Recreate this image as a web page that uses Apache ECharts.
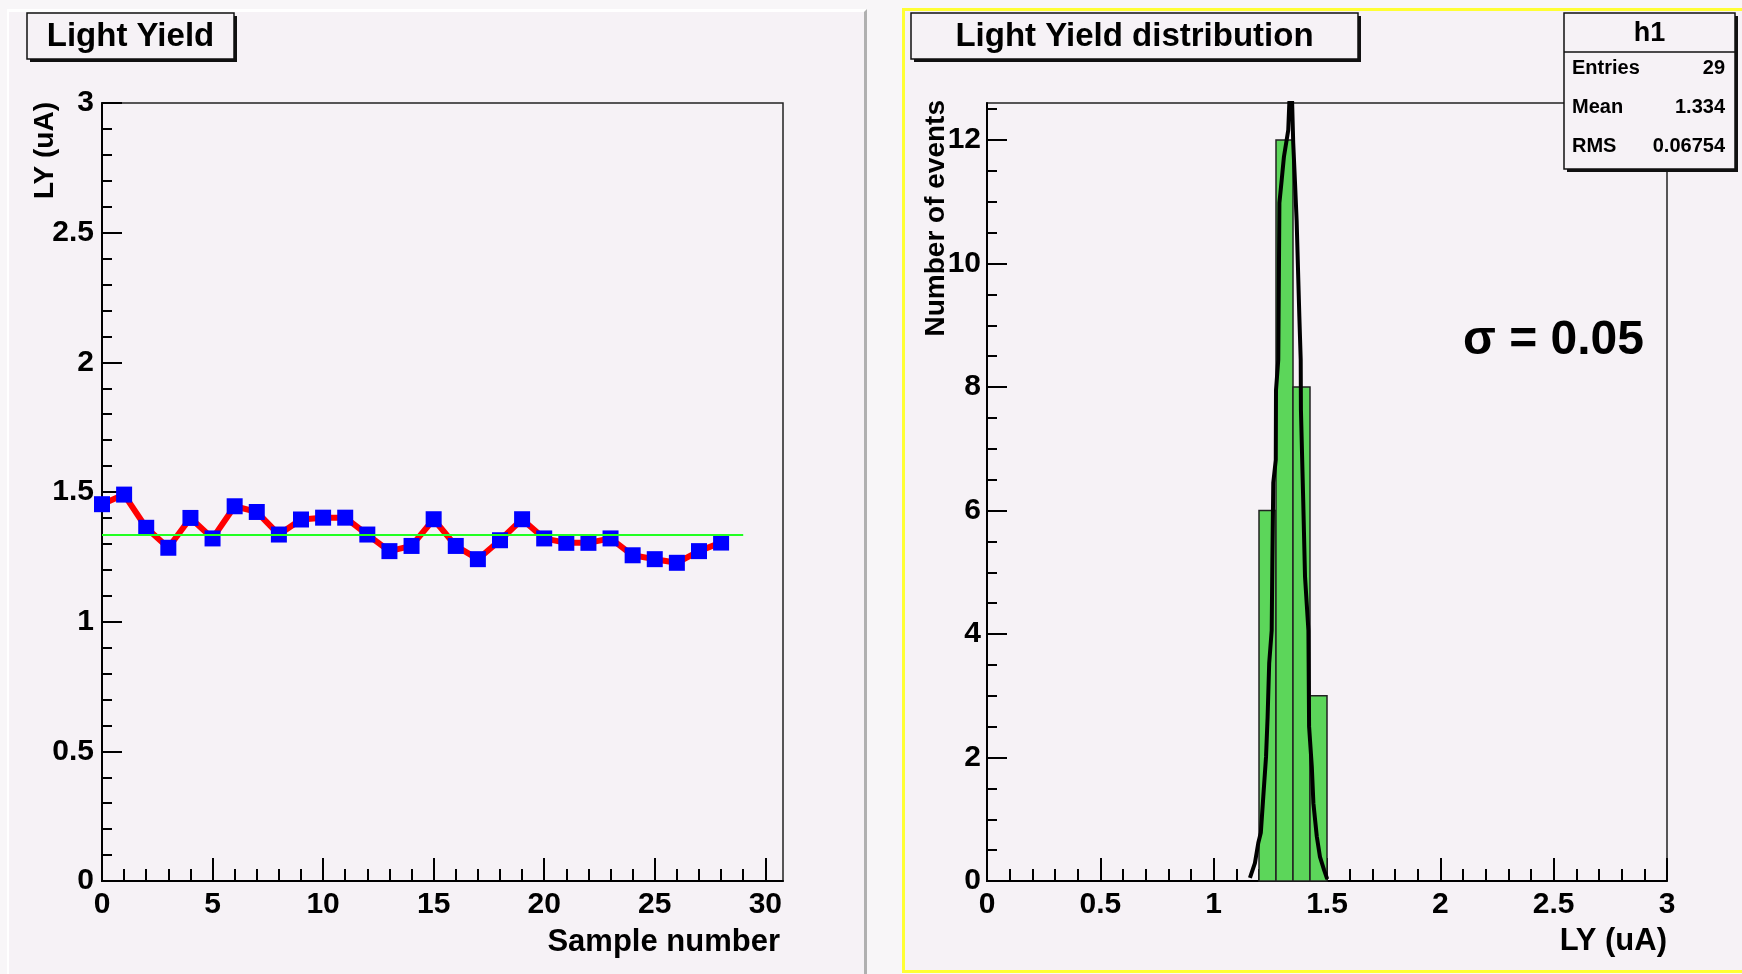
<!DOCTYPE html>
<html>
<head>
<meta charset="utf-8">
<script src="https://cdn.jsdelivr.net/npm/echarts@6/dist/echarts.min.js"></script>
<style>
html,body{margin:0;padding:0;background:#f8f6f8;}
#wrap{position:relative;width:1742px;height:974px;overflow:hidden;}
#padL{position:absolute;left:7px;top:9px;width:855px;height:970px;background:#f6f2f6;border-top:3px solid #ffffff;border-left:2px solid #ffffff;border-right:3px solid #b0b0b0;}
#padR{position:absolute;left:902px;top:8px;width:850px;height:959px;background:#f6f2f6;border:3px solid #ffff33;}
#c{position:absolute;left:0;top:0;width:1742px;height:974px;}
</style>
</head>
<body>
<div id="wrap"><div id="padL"></div><div id="padR"></div><div id="c"></div></div>
<script>
// ---------- data ----------
const sampleIndex = [0,1,2,3,4,5,6,7,8,9,10,11,12,13,14,15,16,17,18,19,20,21,22,23,24,25,26,27,28];
const lightYield  = [1.453,1.490,1.362,1.285,1.400,1.321,1.445,1.423,1.336,1.394,
                     1.401,1.401,1.336,1.272,1.292,1.395,1.292,1.241,1.314,1.395,
                     1.321,1.304,1.304,1.321,1.256,1.241,1.227,1.272,1.305];
const meanLY = 1.334;
const meanLineX = [0, 29];

const histBinLow   = [1.2, 1.275, 1.35, 1.425];
const histBinWidth = 0.075;
const histCounts   = [6, 12, 8, 3];

// Gaussian fit curve
const fitX = [1.160,1.182,1.197,1.208,1.219,1.231,1.238,1.245,1.256,1.259,1.263,1.274,1.275,1.285,1.290,1.300,1.310,1.322,1.329,1.337,
              1.339,
              1.344,1.351,1.359,1.366,1.378,1.384,1.385,1.395,1.403,1.418,1.421,1.433,1.440,1.455,1.469,1.487,1.501];
const fitY = [0.05,0.29,0.62,0.78,1.37,2.01,2.66,3.53,4.06,5.20,6.45,6.82,7.95,8.44,10.98,11.35,11.73,12.00,12.16,12.90,
              13.0,
              12.90,11.95,11.30,10.70,9.14,8.44,7.63,6.17,4.93,4.06,2.50,1.85,1.26,0.72,0.39,0.18,0.03];

const titleLeft  = 'Light Yield';
const titleRight = 'Light Yield distribution';
const xTitleLeft = 'Sample number';
const yTitleLeft = 'LY (uA)';
const xTitleRight = 'LY (uA)';
const yTitleRight = 'Number of events';
const statsName   = 'h1';
const statsLabels = ['Entries', 'Mean', 'RMS'];
const statsValues = ['29', '1.334', '0.06754'];
const sigmaText   = 'σ = 0.05';

// ---------- layout ----------
const FONT = '"Liberation Sans", Arial, Helvetica, sans-serif';
const PADBG = '#f6f2f6';
const TOP = 103, BOTTOM = 881, H = BOTTOM - TOP;
const LX0 = 102, LX1 = 783, LW = LX1 - LX0;
const RX0 = 987, RX1 = 1667, RW = RX1 - RX0;
const LXMAX = 30.8, LXTICKMAX = 30;
const RYMAX = 12.6, RYMAJMAX = 12, RYMINMAX = 12.5;

const tickLbl = {show:true, color:'#000', fontFamily:FONT, fontWeight:'bold', fontSize:30};
const noAxis = {show:false};
function hiddenAxis(gi, min, max){
  return {type:'value', gridIndex:gi, min:min, max:max, show:false};
}

const grids = [
  {left:LX0, top:TOP, width:LW, height:H, show:true, borderColor:'#222', borderWidth:1.5, backgroundColor:'transparent', outerBoundsMode:'none', containLabel:false},
  {left:LX0, top:TOP, width:LW*LXTICKMAX/LXMAX, height:H, outerBoundsMode:'none', containLabel:false},
  {left:RX0, top:TOP, width:RW, height:H, show:true, borderColor:'#222', borderWidth:1.5, backgroundColor:'transparent', outerBoundsMode:'none', containLabel:false},
  {left:RX0, top:BOTTOM - H*RYMAJMAX/RYMAX, width:RW, height:H*RYMAJMAX/RYMAX, outerBoundsMode:'none', containLabel:false},
  {left:RX0, top:BOTTOM - H*RYMINMAX/RYMAX, width:RW, height:H*RYMINMAX/RYMAX, outerBoundsMode:'none', containLabel:false}
];

const axisLine = {show:true, onZero:false, lineStyle:{color:'#000', width:2}};

const xAxes = [
  {type:'value', gridIndex:0, min:0, max:LXMAX, axisLine:axisLine, axisTick:noAxis, axisLabel:noAxis, splitLine:noAxis},
  {type:'value', gridIndex:1, min:0, max:LXTICKMAX, interval:5,
   axisLine:axisLine,
   axisTick:{show:true, inside:true, length:23, lineStyle:{color:'#000', width:2}},
   minorTick:{show:true, splitNumber:5, length:12, lineStyle:{color:'#000', width:2}},
   axisLabel:Object.assign({margin:9}, tickLbl), splitLine:noAxis},
  {type:'value', gridIndex:2, min:0, max:3, interval:0.5,
   axisLine:axisLine,
   axisTick:{show:true, inside:true, length:23, lineStyle:{color:'#000', width:2}},
   minorTick:{show:true, splitNumber:5, length:12, lineStyle:{color:'#000', width:2}},
   axisLabel:Object.assign({margin:9}, tickLbl), splitLine:noAxis},
  hiddenAxis(3, 0, 3),
  hiddenAxis(4, 0, 3)
];

const yAxes = [
  {type:'value', gridIndex:0, min:0, max:3, interval:0.5,
   axisLine:axisLine,
   axisTick:{show:true, inside:true, length:20, lineStyle:{color:'#000', width:2}},
   minorTick:{show:true, splitNumber:5, length:10, lineStyle:{color:'#000', width:2}},
   axisLabel:Object.assign({margin:8}, tickLbl), splitLine:noAxis},
  hiddenAxis(1, 0, 3),
  {type:'value', gridIndex:2, min:0, max:RYMAX, axisLine:axisLine, axisTick:noAxis, axisLabel:noAxis, splitLine:noAxis},
  {type:'value', gridIndex:3, min:0, max:RYMAJMAX, interval:2,
   axisLine:axisLine,
   axisTick:{show:true, inside:true, length:20, lineStyle:{color:'#000', width:2}},
   axisLabel:Object.assign({margin:6}, tickLbl), splitLine:noAxis},
  {type:'value', gridIndex:4, min:0, max:RYMINMAX, interval:0.5,
   axisLine:{show:false},
   axisTick:{show:true, inside:true, length:10, lineStyle:{color:'#000', width:2}},
   axisLabel:noAxis, splitLine:noAxis}
];

function titleBox(x, y, w, h, text, fs){
  return {type:'group', z:50, children:[
    {type:'rect', shape:{x:x+3, y:y+3, width:w, height:h}, style:{fill:'#111'}},
    {type:'rect', shape:{x:x, y:y, width:w, height:h}, style:{fill:PADBG, stroke:'#111', lineWidth:1.5}},
    {type:'text', x:x + w/2, y:y + h/2 + 1, style:{text:text, font:'bold ' + fs + 'px ' + FONT, fill:'#000', align:'center', verticalAlign:'middle'}}
  ]};
}

const statsX = 1564, statsY = 13, statsW = 171, statsH = 156;
const statsRowY = [68, 107, 146];
const statsChildren = [
  {type:'rect', shape:{x:statsX+3, y:statsY+3, width:statsW, height:statsH}, style:{fill:'#111'}},
  {type:'rect', shape:{x:statsX, y:statsY, width:statsW, height:statsH}, style:{fill:PADBG, stroke:'#111', lineWidth:1.5}},
  {type:'line', shape:{x1:statsX, y1:52, x2:statsX+statsW, y2:52}, style:{stroke:'#111', lineWidth:1.5}},
  {type:'text', x:statsX + statsW/2, y:34, style:{text:statsName, font:'bold 27px ' + FONT, fill:'#000', align:'center', verticalAlign:'middle'}}
];
statsLabels.forEach((lab, i) => {
  statsChildren.push({type:'text', x:statsX + 8, y:statsRowY[i], style:{text:lab, font:'bold 20px ' + FONT, fill:'#000', align:'left', verticalAlign:'middle'}});
  statsChildren.push({type:'text', x:statsX + statsW - 10, y:statsRowY[i], style:{text:statsValues[i], font:'bold 20px ' + FONT, fill:'#000', align:'right', verticalAlign:'middle'}});
});

const graphics = [
  titleBox(27, 13, 207, 46, titleLeft, 33),
  titleBox(911, 13, 447, 46, titleRight, 33),
  {type:'group', z:60, children:statsChildren},
  {type:'text', z:50, x:1463, y:341, style:{text:sigmaText, font:'bold 48px ' + FONT, fill:'#000', align:'left', verticalAlign:'middle'}},
  {type:'text', z:50, x:780, y:942, style:{text:xTitleLeft, font:'bold 31px ' + FONT, fill:'#000', align:'right', verticalAlign:'middle'}},
  {type:'text', z:50, x:1667, y:941, style:{text:xTitleRight, font:'bold 31px ' + FONT, fill:'#000', align:'right', verticalAlign:'middle'}},
  {type:'text', z:50, x:45, y:102, rotation:Math.PI/2, style:{text:yTitleLeft, font:'bold 28px ' + FONT, fill:'#000', align:'right', verticalAlign:'middle'}},
  {type:'text', z:50, x:936, y:100, rotation:Math.PI/2, style:{text:yTitleRight, font:'bold 28px ' + FONT, fill:'#000', align:'right', verticalAlign:'middle'}}
];

const series = [
  {type:'line', xAxisIndex:0, yAxisIndex:0, z:3,
   data:sampleIndex.map((s, i) => [s, lightYield[i]]),
   lineStyle:{color:'#ff0000', width:6},
   symbol:'rect', symbolSize:16, itemStyle:{color:'#0000ff'}, showSymbol:true},
  {type:'line', xAxisIndex:0, yAxisIndex:0, z:5,
   data:meanLineX.map(x => [x, meanLY]),
   lineStyle:{color:'#22ff22', width:2}, symbol:'none'},
  {type:'custom', xAxisIndex:2, yAxisIndex:2, z:3,
   data:histBinLow.map((lo, i) => [lo, lo + histBinWidth, histCounts[i]]),
   encode:{x:[0,1], y:2},
   renderItem:function(params, api){
     const lo = api.value(0), hi = api.value(1), n = api.value(2);
     const p0 = api.coord([lo, n]), p1 = api.coord([hi, 0]);
     return {type:'rect', shape:{x:p0[0], y:p0[1], width:p1[0]-p0[0], height:p1[1]-p0[1]},
             style:{fill:'#5cd65a', stroke:'#222', lineWidth:1.5}};
   }},
  {type:'line', xAxisIndex:2, yAxisIndex:2, z:4, clip:true,
   data:fitX.map((x, i) => [x, fitY[i]]),
   lineStyle:{color:'#000', width:4}, symbol:'none'}
];

const chart = echarts.init(document.getElementById('c'), null, {renderer:'canvas'});
chart.setOption({
  animation:false,
  backgroundColor:'transparent',
  grid:grids, xAxis:xAxes, yAxis:yAxes,
  graphic:graphics,
  series:series
});
</script>
</body>
</html>
